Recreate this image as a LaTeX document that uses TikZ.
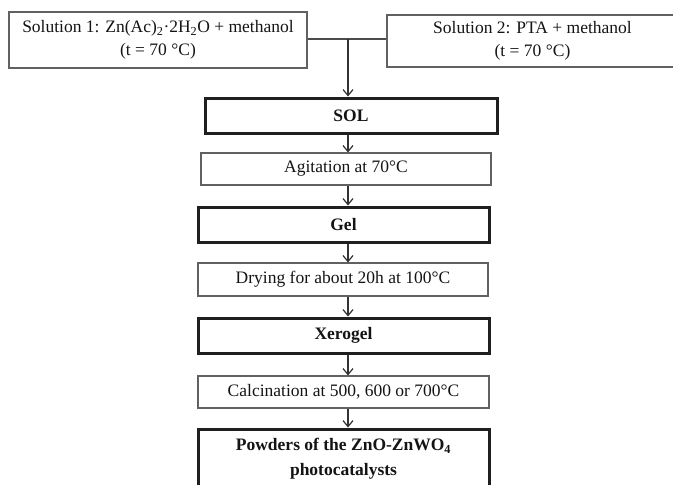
\documentclass[tikz,border=0pt]{standalone}
\usepackage{fontspec}
\setmainfont{Liberation Serif}
\usetikzlibrary{arrows.meta}
\tikzset{
  stepthin/.style={draw=black!62,line width=1.1pt,inner sep=0pt,align=center,text=black!92},
  stepbold/.style={draw=black!88,line width=3pt,inner sep=0pt,align=center,text=black!92,font=\fontsize{17.5}{25}\selectfont\bfseries},
  flow/.style={draw=black!80,line width=1.2pt,-{Straight Barb[length=6pt,width=10pt]}}
}
\begin{document}
\begin{tikzpicture}[x=1pt,y=-1pt,font=\fontsize{17.5}{23}\selectfont]
\path[use as bounding box] (0,0) rectangle (673,485);
\node[stepthin,minimum width=298pt,minimum height=56pt] (sol1) at (158,40) {Solution 1: Zn(Ac)\textsubscript{2}·2H\textsubscript{2}O + methanol\\(t = 70 °C)};
\node[stepthin,minimum width=291pt,minimum height=52pt] (sol2) at (532.5,41) {Solution 2: PTA + methanol\\(t = 70 °C)};
\coordinate (mix) at (348,39);
\node[stepbold,minimum width=292pt,minimum height=35pt] (sol) at (351,115.5) {SOL};
\node[stepthin,minimum width=290pt,minimum height=32pt] (agit) at (346,169) {Agitation at 70°C};
\node[stepbold,minimum width=291pt,minimum height=35pt] (gel) at (343.5,224.5) {Gel};
\node[stepthin,minimum width=290pt,minimum height=33pt] (dry) at (343,279.5) {Drying for about 20h at 100°C};
\node[stepbold,minimum width=291pt,minimum height=35pt] (xero) at (343.5,335.5) {Xerogel};
\node[stepthin,minimum width=291pt,minimum height=32pt] (calc) at (343.5,392) {Calcination at 500, 600 or 700°C};
\node[stepbold,minimum width=291pt,minimum height=60pt] (powd) at (343.5,459) {Powders of the ZnO-ZnWO\textsubscript{4}\\photocatalysts};
\draw[draw=black!70,line width=1.2pt] (sol1.east |- mix) -- (sol2.west |- mix);
\draw[flow] (mix) -- (sol.north -| mix);
\foreach \a/\b in {sol/agit,agit/gel,gel/dry,dry/xero,xero/calc,calc/powd}
  \draw[flow] (\a.south -| mix) -- (\b.north -| mix);
\end{tikzpicture}
\end{document}
